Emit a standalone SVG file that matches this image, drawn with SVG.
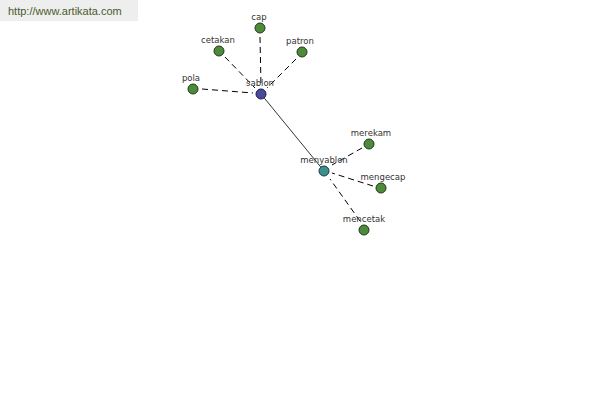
<svg xmlns="http://www.w3.org/2000/svg" width="600" height="400" viewBox="0 0 600 400">
<style>
.lbl{font-family:"DejaVu Sans","Liberation Sans",sans-serif;font-size:8.5px;fill:#333;text-anchor:middle}
.leaf{fill:#4e8a3c;stroke:#1e3a14;stroke-width:1}
.dash{stroke:#000;stroke-width:1;stroke-dasharray:6 4;fill:none}
</style>
<rect x="0" y="0" width="138" height="21" fill="#eeeeee"/>
<text x="8" y="15" font-family="Liberation Sans,Arial,sans-serif" font-size="11" fill="#4b5a2c">http://www.artikata.com</text>
<g id="connectors">
<line class="dash" x1="260" y1="37" x2="261" y2="86"/>
<line class="dash" x1="225" y1="57" x2="255" y2="88"/>
<line class="dash" x1="296" y1="59" x2="267" y2="88"/>
<line class="dash" x1="202" y1="89" x2="253" y2="93"/>
<line x1="261" y1="94" x2="324" y2="171" stroke="#000" stroke-width="0.8"/>
<line class="dash" x1="362" y1="148" x2="332" y2="165"/>
<line class="dash" x1="373" y1="186" x2="332" y2="173"/>
<line class="dash" x1="360" y1="221" x2="330" y2="179"/>
</g>
<g id="cap"><circle class="leaf" cx="260" cy="28" r="5"/><text class="lbl" x="259" y="20">cap</text></g>
<g id="cetakan"><circle class="leaf" cx="219" cy="51" r="5"/><text class="lbl" x="218" y="43">cetakan</text></g>
<g id="patron"><circle class="leaf" cx="302" cy="52" r="5"/><text class="lbl" x="300" y="44">patron</text></g>
<g id="pola"><circle class="leaf" cx="193" cy="89" r="5"/><text class="lbl" x="191" y="81">pola</text></g>
<g id="sablon"><circle cx="261" cy="94" r="5" fill="#4a4a9c" stroke="#1a1a4a"/><text class="lbl" x="260" y="86">sablon</text></g>
<g id="menyablon"><circle cx="324" cy="171" r="5" fill="#3e8e8e" stroke="#144040"/><text class="lbl" x="324" y="163">menyablon</text></g>
<g id="merekam"><circle class="leaf" cx="369" cy="144" r="5"/><text class="lbl" x="371" y="136">merekam</text></g>
<g id="mengecap"><circle class="leaf" cx="381" cy="188" r="5"/><text class="lbl" x="383" y="180">mengecap</text></g>
<g id="mencetak"><circle class="leaf" cx="364" cy="230" r="5"/><text class="lbl" x="364" y="222">mencetak</text></g>
</svg>
